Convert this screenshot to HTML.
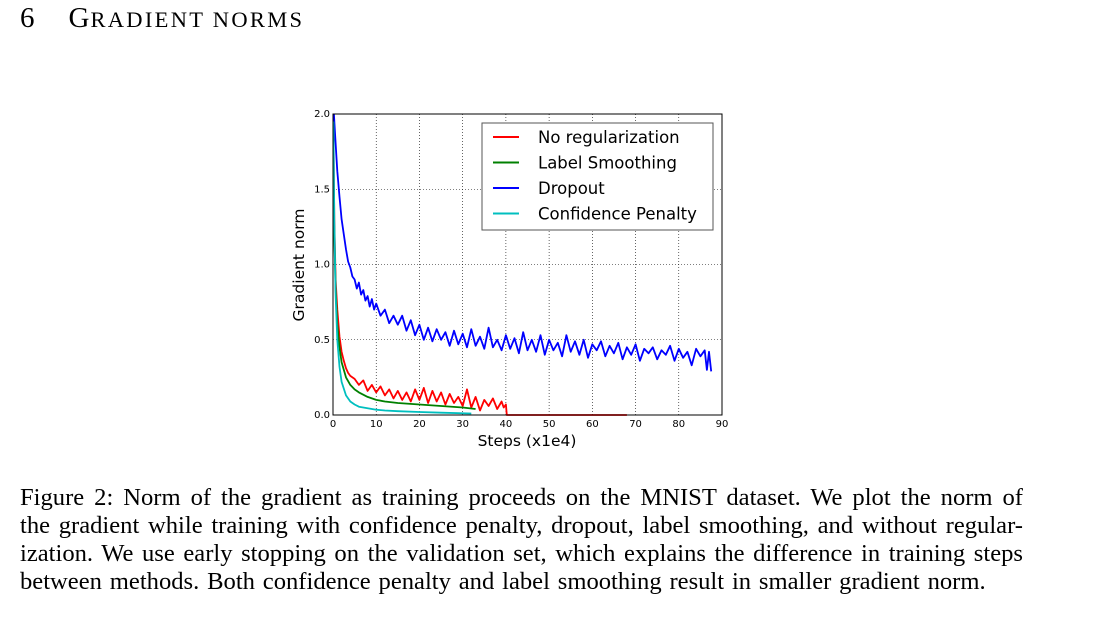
<!DOCTYPE html>
<html><head><meta charset="utf-8">
<style>
body{margin:0;background:#fff;width:1120px;height:625px;overflow:hidden;position:relative;font-family:"Liberation Serif",serif;}
#heading{position:absolute;left:20px;top:2px;font-size:29px;color:#000;letter-spacing:1px;white-space:nowrap}
#heading .sc{font-size:22.5px;letter-spacing:2.3px}
.cap{position:absolute;left:20px;width:1003px;font-size:24.6px;line-height:28px;text-align:justify;text-align-last:justify;white-space:nowrap;}
.cap.last{text-align-last:left;word-spacing:1.7px}
svg{position:absolute;left:0;top:0}
</style></head><body>
<div id="heading">6&nbsp;&nbsp;&nbsp;&nbsp;G<span class="sc">RADIENT NORMS</span></div>
<svg id="chart" width="1120" height="470"></svg>
<div class="cap" style="top:484px">Figure 2: Norm of the gradient as training proceeds on the MNIST dataset. We plot the norm of</div>
<div class="cap" style="top:512px">the gradient while training with confidence penalty, dropout, label smoothing, and without regular-</div>
<div class="cap" style="top:540px">ization. We use early stopping on the validation set, which explains the difference in training steps</div>
<div class="cap last" style="top:568px">between methods. Both confidence penalty and label smoothing result in smaller gradient norm.</div>
<script>
const xTicks=[0,10,20,30,40,50,60,70,80,90];
const yTicks=[0.0,0.5,1.0,1.5,2.0];
const yTickLabels=["0.0","0.5","1.0","1.5","2.0"];
const dropX=[0.2,0.5,1,1.5,2,2.5,3,3.5,4,4.5,5,5.5,6,6.5,7,7.5,8,8.5,9,9.5,10,11,12,13,14,15,16,17,18,19,20,21,22,23,24,25,26,27,28,29,30,31,32,33,34,35,36,37,38,39,40,41,42,43,44,45,46,47,48,49,50,51,52,53,54,55,56,57,58,59,60,61,62,63,64,65,66,67,68,69,70,71,72,73,74,75,76,77,78,79,80,81,82,83,84,85,86,86.5,87,87.5];
const dropY=[2.0,1.85,1.62,1.45,1.3,1.2,1.1,1.02,0.98,0.92,0.9,0.84,0.88,0.8,0.83,0.76,0.79,0.72,0.77,0.7,0.74,0.66,0.7,0.61,0.66,0.6,0.66,0.56,0.63,0.53,0.6,0.5,0.58,0.49,0.57,0.5,0.55,0.46,0.56,0.47,0.54,0.45,0.57,0.46,0.52,0.44,0.58,0.45,0.5,0.43,0.53,0.44,0.51,0.41,0.55,0.43,0.5,0.42,0.53,0.4,0.5,0.43,0.48,0.39,0.53,0.42,0.49,0.4,0.5,0.38,0.47,0.43,0.49,0.39,0.46,0.41,0.48,0.37,0.45,0.4,0.47,0.36,0.44,0.41,0.45,0.37,0.43,0.4,0.46,0.36,0.44,0.38,0.42,0.33,0.44,0.39,0.43,0.3,0.42,0.29,0.43,0.44];
const noRegX=[0.1,0.3,0.6,1,1.5,2,2.5,3,3.5,4,5,6,7,8,9,10,11,12,13,14,15,16,17,18,19,20,21,22,23,24,25,26,27,28,29,30,31,32,33,34,35,36,37,38,39,39.5,40,40.2,50,60,68];
const noRegY=[1.9,1.3,0.9,0.7,0.52,0.42,0.36,0.31,0.28,0.26,0.24,0.2,0.23,0.16,0.2,0.15,0.19,0.13,0.17,0.11,0.16,0.1,0.15,0.09,0.17,0.1,0.18,0.08,0.16,0.09,0.15,0.07,0.14,0.08,0.12,0.06,0.17,0.05,0.12,0.03,0.1,0.06,0.11,0.04,0.09,0.05,0.07,0.0,0.0,0.0,0.0];
const lsX=[0.1,0.3,0.6,1,1.5,2,3,4,5,6,8,10,12,15,20,25,30,33];
const lsY=[1.5,1.2,0.85,0.6,0.45,0.35,0.25,0.2,0.17,0.15,0.12,0.1,0.09,0.08,0.07,0.06,0.05,0.04];
const cpX=[0.1,0.3,0.6,1,1.5,2,3,4,5,6,8,10,12,15,20,25,32];
const cpY=[1.95,1.3,0.8,0.5,0.32,0.22,0.13,0.09,0.07,0.055,0.045,0.035,0.03,0.025,0.02,0.015,0.01];
const seriesNames=["No regularization","Label Smoothing","Dropout","Confidence Penalty"];
const seriesColors=["#ff0000","#008000","#0000ff","#00bfbf"];

const L=333,R=722,T=114,B=415;
const sx=v=>L+(v-0)/(90-0)*(R-L);
const sy=v=>B-(v-0)/(2-0)*(B-T);
const NS="http://www.w3.org/2000/svg";
const svg=document.getElementById('chart');
function mk(tag,attrs,parent){const e=document.createElementNS(NS,tag);for(const k in attrs)e.setAttribute(k,attrs[k]);(parent||svg).appendChild(e);return e;}

xTicks.forEach(t=>{
  if(t>0&&t<90){const g=mk('line',{x1:sx(t),x2:sx(t),y1:T,y2:B,stroke:'#000','stroke-width':0.6,'stroke-dasharray':'1,2'});
  
  }
  const lb=mk('text',{x:sx(t),y:B+12,'font-size':10,'text-anchor':'middle','font-family':'"DejaVu Sans",sans-serif'});
  lb.textContent=t;
  
  
});
yTicks.forEach((t,i)=>{
  if(t>0&&t<2){const g=mk('line',{x1:L,x2:R,y1:sy(t),y2:sy(t),stroke:'#000','stroke-width':0.6,'stroke-dasharray':'1,2'});
  
  }
  const lb=mk('text',{x:L-3,y:sy(t)+3,'font-size':10,'text-anchor':'end','font-family':'"DejaVu Sans",sans-serif'});
  lb.textContent=yTickLabels[i];
  
  
});
function line(xs,ys,color,name){
  const d=xs.map((x,i)=>(i?'L':'M')+sx(x).toFixed(1)+','+sy(ys[i]).toFixed(1)).join('');
  const p=mk('path',{d:d,fill:'none',stroke:color,'stroke-width':1.8,'stroke-linejoin':'round'});
  
  
}
line(noRegX,noRegY,seriesColors[0],'no-regularization-line');
line(dropX,dropY,seriesColors[2],'dropout-line');
line(lsX,lsY,seriesColors[1],'label-smoothing-line');
line(cpX,cpY,seriesColors[3],'confidence-penalty-line');

const frame=mk('rect',{x:L,y:T,width:R-L,height:B-T,fill:'none',stroke:'#000','stroke-width':1});



const leg=mk('g',{});


mk('rect',{x:482,y:123,width:231,height:107,fill:'#fff',stroke:'#555','stroke-width':1},leg);
seriesNames.forEach((n,i)=>{
  const y=137+i*25.5;
  const ln=mk('line',{x1:493,x2:519,y1:y,y2:y,stroke:seriesColors[i],'stroke-width':2},leg);
  
  
  const t=mk('text',{x:538,y:y+6,'font-size':16.5,'font-family':'"DejaVu Sans",sans-serif'},leg);
  t.textContent=n;
  
  
});
const xl=mk('text',{x:527,y:446,'font-size':15.5,'text-anchor':'middle','font-family':'"DejaVu Sans",sans-serif'});
xl.textContent='Steps (x1e4)';


const yl=mk('text',{x:0,y:0,'font-size':15.5,'text-anchor':'middle','font-family':'"DejaVu Sans",sans-serif',transform:'translate(304,265) rotate(-90)'});
yl.textContent='Gradient norm';


</script>
</body></html>
